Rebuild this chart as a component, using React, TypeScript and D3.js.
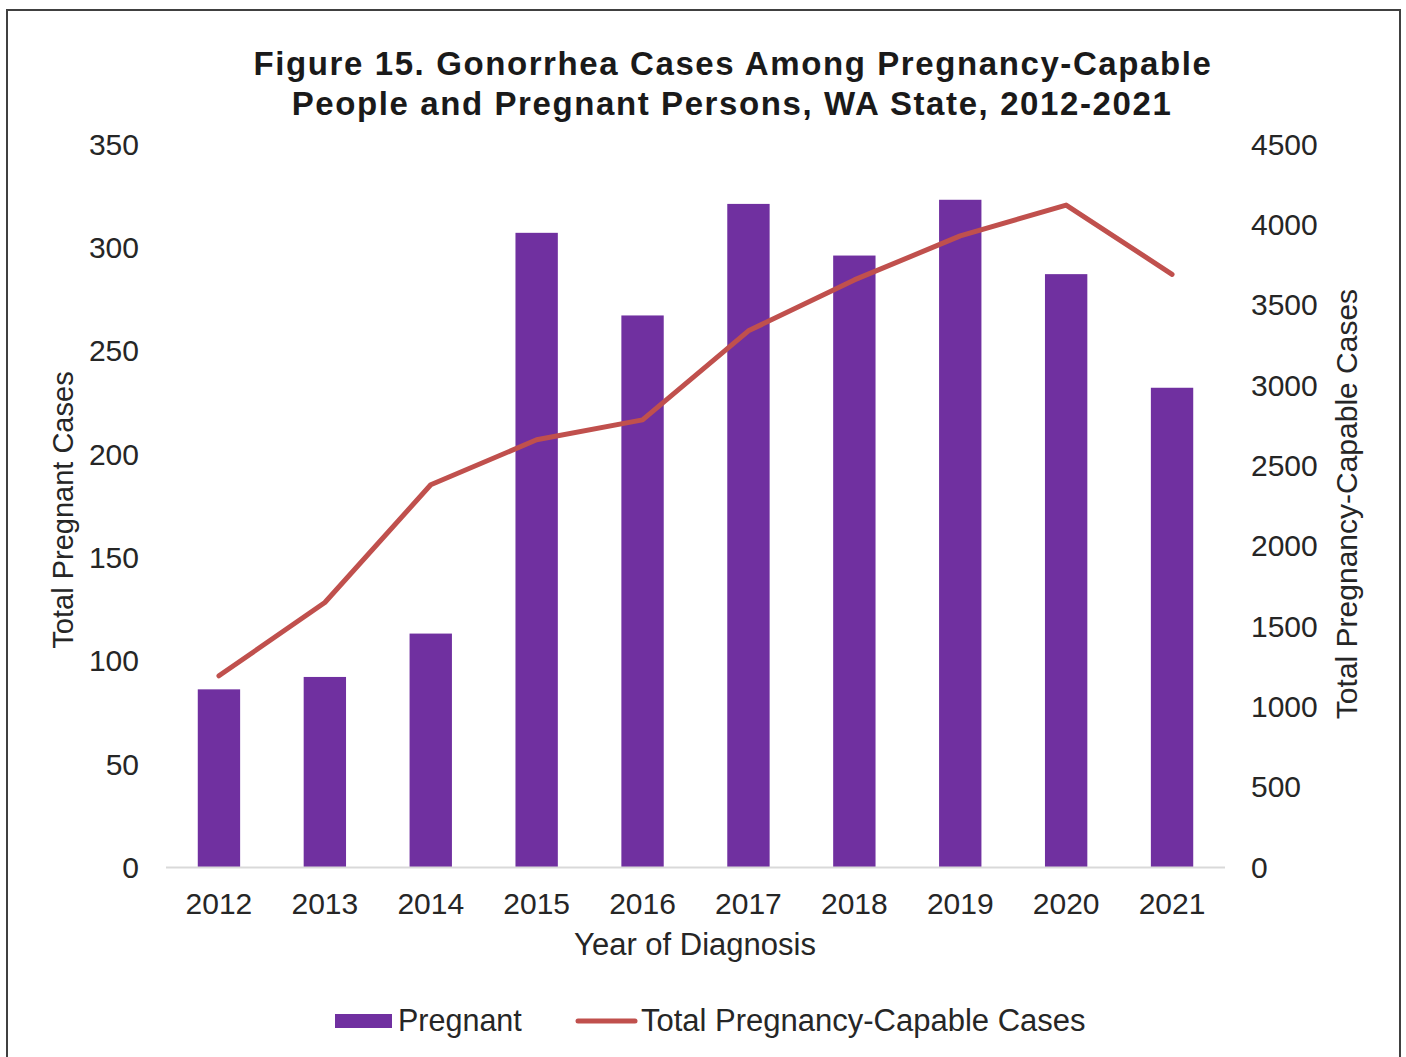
import * as d3 from "d3";

const years = ["2012", "2013", "2014", "2015", "2016", "2017", "2018", "2019", "2020", "2021"];
const pregnantCases = [86, 92, 113, 307, 267, 321, 296, 323, 287, 232];
const capableCases = [1190, 1646, 2379, 2659, 2783, 3337, 3654, 3928, 4120, 3689];
const leftTicks = [0, 50, 100, 150, 200, 250, 300, 350];
const rightTicks = [0, 500, 1000, 1500, 2000, 2500, 3000, 3500, 4000, 4500];

const W = 1406;
const H = 1057;
const plot = { left: 166, right: 1225, top: 144, bottom: 867 };
const FONT = "'Liberation Sans', Arial, sans-serif";
const TEXT = "#262626";
const PURPLE = "#7030A0";
const RED = "#C0504D";

export default function App() {
  const x = d3
    .scaleBand<string>()
    .domain(years)
    .range([plot.left, plot.right])
    .paddingInner(0.6)
    .paddingOuter(0.3);
  const yLeft = d3.scaleLinear().domain([0, 350]).range([plot.bottom, plot.top]);
  const yRight = d3.scaleLinear().domain([0, 4500]).range([plot.bottom, plot.top]);

  const line = d3
    .line<number>()
    .x((_, i) => (x(years[i]) || 0) + x.bandwidth() / 2)
    .y((d) => yRight(d));

  return (
    <div style={{ position: "absolute", left: 0, top: 0 }}>
      <svg width={W} height={H} style={{ display: "block", fontFamily: FONT }}>
        <rect x={0} y={0} width={W} height={H} fill="#ffffff" />
        <rect x={7} y={10} width={1393} height={H + 20} fill="none" stroke="#404040" strokeWidth={2} />

        <g fontWeight="bold" fontSize={33} fill="#1a1a1a" textAnchor="middle" letterSpacing="1.6px">
          <text x={733} y={75}>Figure 15. Gonorrhea Cases Among Pregnancy-Capable</text>
          <text x={732} y={115}>People and Pregnant Persons, WA State, 2012-2021</text>
        </g>

        {/* bars */}
        {pregnantCases.map((v, i) => (
          <rect
            key={years[i]}
            x={x(years[i])}
            y={yLeft(v)}
            width={x.bandwidth()}
            height={yLeft(0) - yLeft(v)}
            fill={PURPLE}
          />
        ))}

        {/* axis line */}
        <line x1={plot.left} x2={plot.right} y1={plot.bottom + 0.5} y2={plot.bottom + 0.5} stroke="#d9d9d9" strokeWidth={2} />

        {/* line series */}
        <path
          d={line(capableCases) || ""}
          fill="none"
          stroke={RED}
          strokeWidth={5}
          strokeLinecap="round"
          strokeLinejoin="round"
        />

        {/* left ticks */}
        <g fontSize={30} fill={TEXT} textAnchor="end">
          {leftTicks.map((t) => (
            <text key={t} x={139} y={yLeft(t)} dy="0.36em">
              {t}
            </text>
          ))}
        </g>

        {/* right ticks */}
        <g fontSize={30} fill={TEXT} textAnchor="start">
          {rightTicks.map((t) => (
            <text key={t} x={1251} y={yRight(t)} dy="0.36em">
              {t}
            </text>
          ))}
        </g>

        {/* x ticks */}
        <g fontSize={30} fill={TEXT} textAnchor="middle">
          {years.map((yr) => (
            <text key={yr} x={(x(yr) || 0) + x.bandwidth() / 2} y={914}>
              {yr}
            </text>
          ))}
        </g>

        {/* axis titles */}
        <text x={695} y={955} fontSize={31} fill={TEXT} textAnchor="middle">
          Year of Diagnosis
        </text>
        <text
          transform="translate(73,510) rotate(-90)"
          fontSize={29}
          fill={TEXT}
          textAnchor="middle"
        >
          Total Pregnant Cases
        </text>
        <text
          transform="translate(1357,504) rotate(-90)"
          fontSize={30}
          fill={TEXT}
          textAnchor="middle"
        >
          Total Pregnancy-Capable Cases
        </text>

        {/* legend */}
        <rect x={335} y={1014} width={57} height={14} fill={PURPLE} />
        <text x={398} y={1031} fontSize={30.5} fill={TEXT}>
          Pregnant
        </text>
        <line x1={578} x2={635} y1={1021} y2={1021} stroke={RED} strokeWidth={5} strokeLinecap="round" />
        <text x={641} y={1031} fontSize={31} fill={TEXT}>
          Total Pregnancy-Capable Cases
        </text>
      </svg>
    </div>
  );
}
